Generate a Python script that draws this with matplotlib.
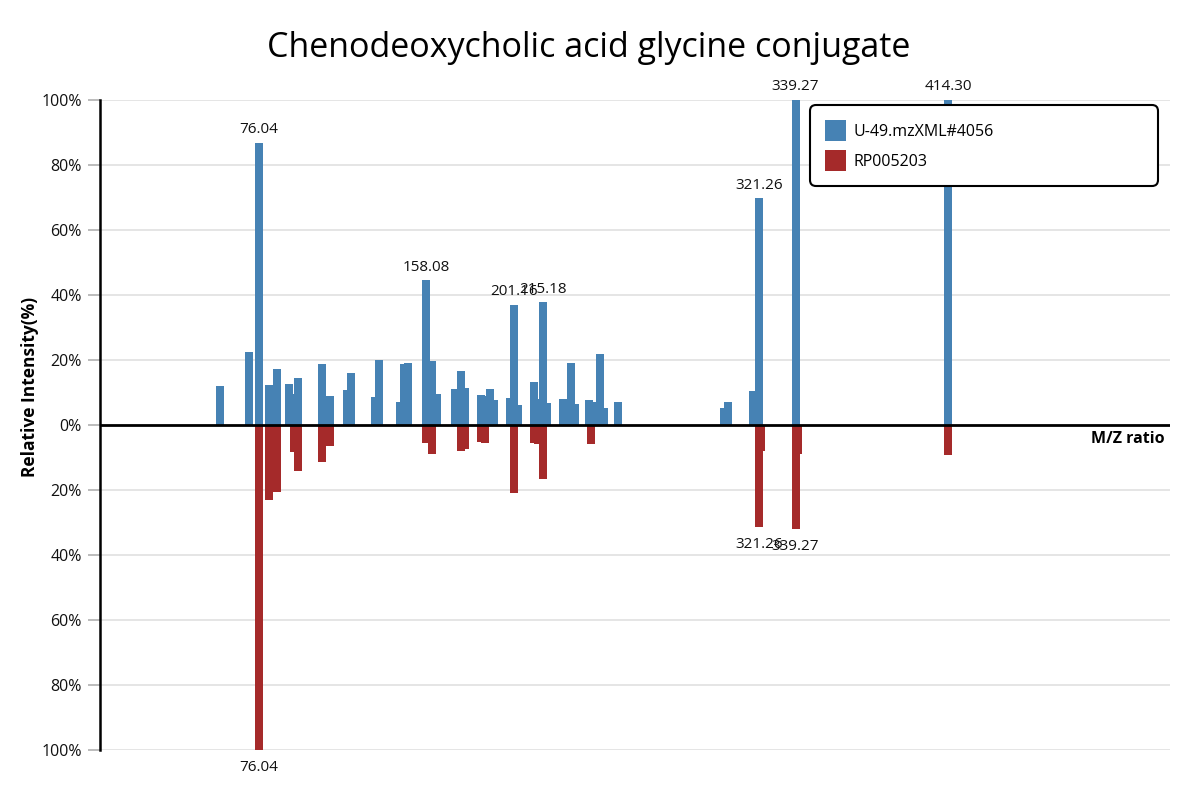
"""
Mirror plot of two MS/MS spectra:
query scan (top, blue) against library record (bottom, red).
"""
import matplotlib
matplotlib.use("Agg")
import matplotlib.pyplot as plt
import matplotlib.transforms as mtransforms
from matplotlib.patches import Patch

plt.rcParams['font.family'] = ['Open Sans', 'DejaVu Sans']

TITLE = "Chenodeoxycholic acid glycine conjugate"
QUERY_NAME = "U-49.mzXML#4056"
REF_NAME = "RP005203"

# query spectrum (relative intensity, %)
query_mz = [56.9, 71.1, 76.04, 80.95, 84.88, 90.77, 93.22, 95.19, 106.97, 110.90,
            119.24, 121.20, 132.99, 134.95, 145.26, 147.22, 149.19, 158.08, 161.03, 163.5,
            172.26, 175.2, 177.17, 185.0, 187.0, 189.4, 191.4, 199.2, 201.16, 203.1,
            211.04, 213.0, 215.18, 217.2, 225.3, 229.2, 231.2, 238.0, 239.5, 243.4,
            245.4, 252.3, 304.3, 306.3, 318.3, 321.26, 339.27, 414.30]
query_int = [12.0, 22.5, 86.8, 12.3, 17.2, 12.6, 9.5, 14.5, 18.8, 8.9,
             10.8, 16.0, 8.6, 20.0, 7.1, 18.8, 19.1, 44.5, 19.7, 9.5,
             11.1, 16.6, 11.4, 9.2, 9.0, 11.1, 7.7, 8.3, 37.0, 6.2,
             13.2, 8.0, 37.8, 6.8, 8.0, 19.1, 6.5, 7.7, 7.1, 21.8,
             5.2, 7.1, 5.2, 7.1, 10.5, 69.8, 100.0, 100.0]

# reference spectrum (drawn downwards)
ref_mz = [76.04, 80.95, 84.88, 93.22, 95.19, 106.97, 110.90, 158.08, 161.03, 175.2,
          177.17, 185.0, 187.0, 201.16, 211.04, 213.0, 215.18, 239.0, 321.26, 322.2,
          339.27, 340.4, 414.30]
ref_int = [100.0, 23.1, 20.6, 8.3, 14.2, 11.4, 6.5, 5.5, 8.9, 8.0,
           7.4, 5.2, 5.5, 20.9, 5.5, 5.8, 16.6, 5.8, 31.4, 8.0,
           32.0, 8.9, 9.2]

query_labels = [76.04, 158.08, 201.16, 215.18, 321.26, 339.27, 414.30]
ref_labels = [76.04, 321.26, 339.27]

yticks = [-100, -80, -60, -40, -20, 0, 20, 40, 60, 80, 100]

BLUE = "#4682b4"
RED = "#a52a2a"
BAR_W = 3.93

fig = plt.figure(figsize=(12, 8), dpi=100)
ax = fig.add_axes([100 / 1200, 50 / 800, 1070 / 1200, 650 / 800])

ax.bar(query_mz, query_int, width=BAR_W, color=BLUE, zorder=2)
ax.bar(ref_mz, [-v for v in ref_int], width=BAR_W, color=RED, zorder=2)

for mz in query_labels:
    h = query_int[query_mz.index(mz)]
    ax.annotate(f"{mz:.2f}", (mz, h), xytext=(0, 4), textcoords="offset points",
                ha="center", va="bottom", fontsize=11, color="#111", clip_on=False)
for mz in ref_labels:
    h = ref_int[ref_mz.index(mz)]
    ax.annotate(f"{mz:.2f}", (mz, -h), xytext=(0, -7), textcoords="offset points",
                ha="center", va="top", fontsize=11, color="#111", clip_on=False)

ax.set_xlim(-2, 523)
ax.set_ylim(-100, 100)
ax.set_xticks([])
ax.set_yticks(yticks)
ax.set_yticklabels([f"{abs(t)}%" for t in yticks], fontsize=11.5, color="#111")
ax.tick_params(axis="y", length=9, width=1.2, color="#b0b0b0", pad=4)
for t in yticks:
    if t != 0:
        ax.axhline(t, color="#e3e3e3", lw=1.3, zorder=0)
ax.axhline(0, color="black", lw=2, zorder=3)

for s in ["top", "right", "bottom"]:
    ax.spines[s].set_visible(False)
ax.spines["left"].set_linewidth(1.8)

# axis name sits just under the zero line, at the right end
trans = mtransforms.blended_transform_factory(ax.transAxes, ax.transData)
ax.annotate("M/Z ratio", (1.0, 0), xycoords=trans, xytext=(-4, -4),
            textcoords="offset points", ha="right", va="top",
            fontsize=11.5, fontweight="bold")
fig.text(30 / 1200, 1 - 387 / 800, "Relative Intensity(%)", rotation=90,
         ha="center", va="center", fontsize=12.5, fontweight="bold")
fig.text(589 / 1200, 1 - 48 / 800, TITLE, ha="center", va="center", fontsize=24.5)

handles = [Patch(facecolor=BLUE, label=QUERY_NAME), Patch(facecolor=RED, label=REF_NAME)]
leg = ax.legend(handles=handles, loc="upper left",
                bbox_to_anchor=(710 / 1070, 1 - 5 / 650, 348 / 1070, 0),
                mode="expand", borderaxespad=0, fontsize=11.5,
                handlelength=1.3, handleheight=1.6, handletextpad=0.5,
                labelspacing=0.6, borderpad=0.95, fancybox=True,
                framealpha=1, edgecolor="black")
leg.get_frame().set_linewidth(1.5)
leg.get_frame().set_boxstyle("round", pad=0, rounding_size=0.4)

fig.savefig("out.png", dpi=100)
